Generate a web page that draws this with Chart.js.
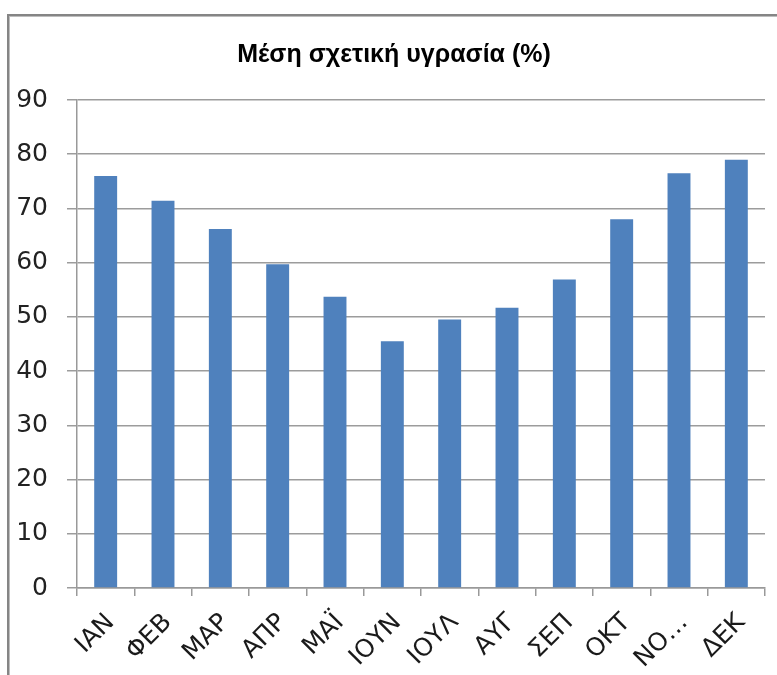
<!DOCTYPE html>
<html>
<head>
<meta charset="utf-8">
<script src="https://cdn.jsdelivr.net/npm/chart.js@4/dist/chart.umd.min.js"></script>
<style>
  html, body { margin: 0; padding: 0; background: #fff; }
  #wrap { position: relative; width: 777px; height: 675px; overflow: hidden; }
  #frame { position: absolute; left: 7px; top: 14px; width: 800px; height: 700px;
           border-left: 2px solid #858585; border-top: 2px solid #858585;
           box-shadow: inset 1px 1px 0 #bdbdbd; pointer-events: none; }
  canvas { position: absolute; left: 0; top: 0; }
</style>
</head>
<body>
<div id="wrap">
  <canvas id="c" width="777" height="675"></canvas>
  <div id="frame"></div>
</div>
<script>
const chartTitle = "Μέση σχετική υγρασία (%)";
const months = ["ΙΑΝ", "ΦΕΒ", "ΜΑΡ", "ΑΠΡ", "ΜΑΪ", "ΙΟΥΝ", "ΙΟΥΛ", "ΑΥΓ", "ΣΕΠ", "ΟΚΤ", "ΝΟ…", "ΔΕΚ"];
const humidity = [76.0, 71.4, 66.2, 59.7, 53.7, 45.5, 49.5, 51.7, 56.9, 68.0, 76.5, 79.0];
const yTicks = [0, 10, 20, 30, 40, 50, 60, 70, 80, 90];

const titlePlugin = {
  id: 'customTitle',
  afterDraw(chart) {
    const ctx = chart.ctx;
    ctx.save();
    ctx.font = 'bold 25px "Liberation Sans", Arial, sans-serif';
    ctx.fillStyle = '#000';
    ctx.textAlign = 'center';
    ctx.textBaseline = 'middle';
    ctx.fillText(chartTitle, 394, 55);
    ctx.restore();
  }
};

new Chart(document.getElementById('c'), {
  type: 'bar',
  data: {
    labels: months,
    datasets: [{
      data: humidity,
      backgroundColor: '#4F81BD',
      borderWidth: 0,
      barPercentage: 0.4,
      categoryPercentage: 1.0
    }]
  },
  plugins: [titlePlugin],
  options: {
    responsive: false,
    animation: false,
    devicePixelRatio: 1,
    layout: { padding: { left: 0, right: 12, top: 100, bottom: 0 } },
    plugins: {
      legend: { display: false },
      tooltip: { enabled: false },
      title: { display: false }
    },
    scales: {
      y: {
        min: 0, max: 90,
        afterBuildTicks: (s) => { s.ticks = yTicks.map(v => ({ value: v })); },
        afterFit: (s) => { s.width = 77; },
        border: { display: true, color: '#999', width: 1.5 },
        grid: { color: '#9c9c9c', lineWidth: 1.5, tickLength: 10, drawTicks: true },
        ticks: {
          padding: 19,
          color: '#222',
          font: { family: 'DejaVu Sans', size: 25 }
        }
      },
      x: {
        afterFit: (s) => { s.height = 87; },
        border: { display: true, color: '#999', width: 1.5 },
        grid: { drawOnChartArea: false, drawTicks: true, tickLength: 8, color: '#999', lineWidth: 1.5, offset: true },
        ticks: {
          minRotation: 45, maxRotation: 45,
          autoSkip: false,
          padding: 12,
          labelOffset: 5,
          color: '#1a1a1a',
          font: { family: 'DejaVu Sans', size: 25 }
        }
      }
    }
  }
});
</script>
</body>
</html>
